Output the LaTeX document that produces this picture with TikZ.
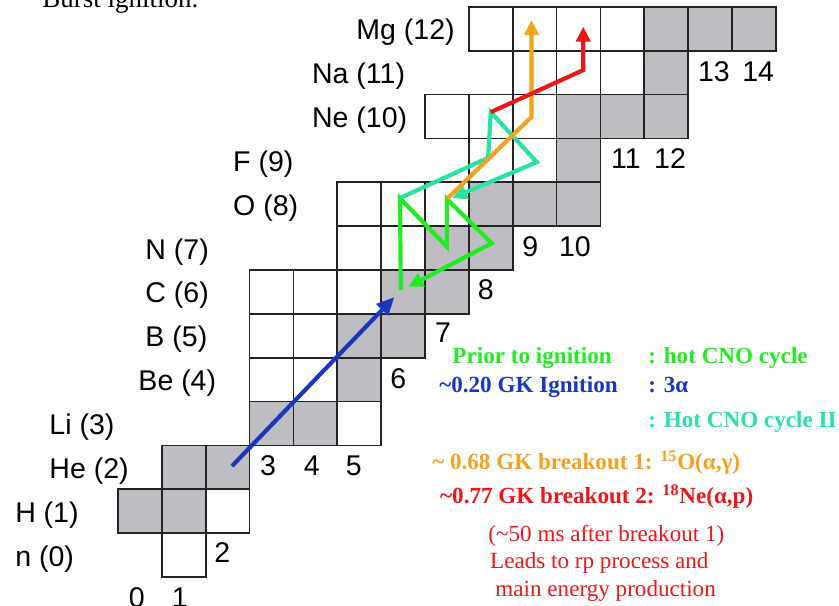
\documentclass[tikz,border=0pt]{standalone}
\usepackage{fontspec}
\setmainfont{Liberation Serif}
\newfontfamily\labelfont{Liberation Sans}
\usepackage{tikz}
\usetikzlibrary{arrows.meta}
\definecolor{cellgray}{RGB}{189,189,194}
\definecolor{gridline}{RGB}{35,35,35}
\definecolor{cnogreen}{RGB}{34,235,34}
\definecolor{cnoteal}{RGB}{40,226,160}
\definecolor{tripleblue}{RGB}{25,55,190}
\definecolor{boorange}{RGB}{245,160,30}
\definecolor{bored}{RGB}{236,24,24}

\begin{document}
\begin{tikzpicture}[
    cell/.style={draw=gridline,line width=1.1pt},
    zlab/.style={anchor=base west,inner sep=0pt,font=\labelfont\fontsize{18.5}{21}\selectfont},
    nlab/.style={inner sep=0pt,font=\labelfont\fontsize{18.5}{21}\selectfont},
    flow/.style={line width=2.7pt,-{Triangle[length=3.4mm,width=3.2mm]}},
    note/.style={anchor=base west,inner sep=0pt,font=\bfseries\fontsize{15}{18}\selectfont},
    remark/.style={anchor=base west,inner sep=0pt,text=bored,font=\fontsize{15}{18}\selectfont}]
    \useasboundingbox (-2.691,-0.661) rectangle (16.442,13.158);
    % heading, cut off by the top edge
    \node[anchor=base west,inner sep=0pt,font=\fontsize{17.5}{20}\selectfont] (title)
      at (-1.73,12.98) {Burst ignition.};
    % unstable nuclei
    \foreach \n/\z in {1/0, 2/1, 5/3, 3/4,4/4, 3/5,4/5, 3/6,4/6,5/6, 5/7,6/7,
        5/8,6/8,7/8, 8/9,9/9, 7/10,8/10,9/10, 9/11,10/11,11/11,
        8/12,9/12,10/12,11/12}
      \draw[cell,fill=white] (\n,\z) rectangle ++(1,1);
    % stable nuclei
    \foreach \n/\z in {0/1,1/1, 1/2,2/2, 3/3,4/3, 5/4, 5/5,6/5, 6/6,7/6,
        7/7,8/7, 8/8,9/8,10/8, 10/9, 10/10,11/10,12/10, 12/11,
        12/12,13/12,14/12}
      \draw[cell,fill=cellgray] (\n,\z) rectangle ++(1,1);
    % proton numbers
    \foreach \t/\x/\z in {n (0)/-2.35/0, H (1)/-2.35/1, He (2)/-1.57/2, Li (3)/-1.57/3,
        Be (4)/0.46/4, B (5)/0.62/5, C (6)/0.62/6, N (7)/0.62/7, O (8)/2.62/8,
        F (9)/2.62/9, Ne (10)/4.42/10, Na (11)/4.42/11, Mg (12)/5.43/12}
      \node[zlab] (z\z) at (\x,\z+0.25) {\t};
    % neutron numbers
    \foreach \t/\x/\y in {0/0.43/-0.48, 1/1.41/-0.48, 2/2.38/0.55, 3/3.42/2.54,
        4/4.42/2.54, 5/5.38/2.54, 6/6.39/4.52, 7/7.41/5.58, 8/8.39/6.56,
        9/9.4/7.53, 10/10.42/7.53, 11/11.58/9.55, 12/12.59/9.55,
        13/13.59/11.52, 14/14.6/11.52}
      \node[nlab] (n\t) at (\x,\y) {\t};

    % reaction flow points
    \coordinate (He4) at (2.6,2.53);
    \coordinate (C12in) at (6.3,6.38);
    \coordinate (C12) at (6.45,6.54);
    \coordinate (C12ret) at (6.62,6.62);
    \coordinate (O14) at (6.43,8.64);
    \coordinate (N14) at (7.5,7.53);
    \coordinate (O15) at (7.5,8.62);
    \coordinate (N15) at (8.52,7.61);
    \coordinate (F17) at (8.44,9.56);
    \coordinate (Ne18) at (8.5,10.6);
    \coordinate (F18) at (9.55,9.46);
    \coordinate (O15ret) at (7.62,8.64);
    \coordinate (Ne19) at (9.43,10.49);
    \coordinate (Mg21) at (9.43,12.70);
    \coordinate (Na21) at (10.61,11.56);
    \coordinate (Mg22) at (10.61,12.55);

    % triple alpha
    \draw[flow,tripleblue,-{Triangle[length=4mm,width=3.6mm]}] (He4) -- (C12in);
    % hot CNO cycle
    \draw[flow,cnogreen] (C12) -- (O14) -- (N14) -- (O15) -- (N15) -- (C12ret);
    % hot CNO cycle II
    \draw[flow,cnoteal] (O14) -- (F17) -- (Ne18) -- (F18) -- (O15ret);
    % breakout 1
    \draw[flow,boorange] (O15) -- (Ne19) -- (Mg21);
    % breakout 2
    \draw[flow,bored] (Ne18) -- (Na21) -- (Mg22);

    % legend
    \node[note,text=cnogreen] (prior) at (7.62,4.87) {Prior to ignition};
    \node[note,text=cnogreen] (hcno) at (12.09,4.87) {: hot CNO cycle};
    \node[note,text=tripleblue] (ignit) at (7.32,4.20) {\textasciitilde0.20 GK Ignition};
    \node[note,text=tripleblue] (trialpha) at (12.09,4.20) {: 3α};
    \node[note,text=cnoteal] (hcnotwo) at (12.09,3.41) {: Hot CNO cycle II};
    \node[note,text=boorange] (brkone) at (7.16,2.46)
      {\textasciitilde\ 0.68 GK breakout 1: \textsuperscript{15}O(α,γ)};
    \node[note,text=bored] (brktwo) at (7.34,1.68)
      {\textasciitilde0.77 GK breakout 2: \textsuperscript{18}Ne(α,p)};
    \node[remark] (delay) at (8.44,0.805) {(\textasciitilde50 ms after breakout 1)};
    \node[remark] (leads) at (8.48,0.198) {Leads to rp process and};
    \node[remark] (energy) at (8.6,-0.45) {main energy production};
\end{tikzpicture}
\end{document}
